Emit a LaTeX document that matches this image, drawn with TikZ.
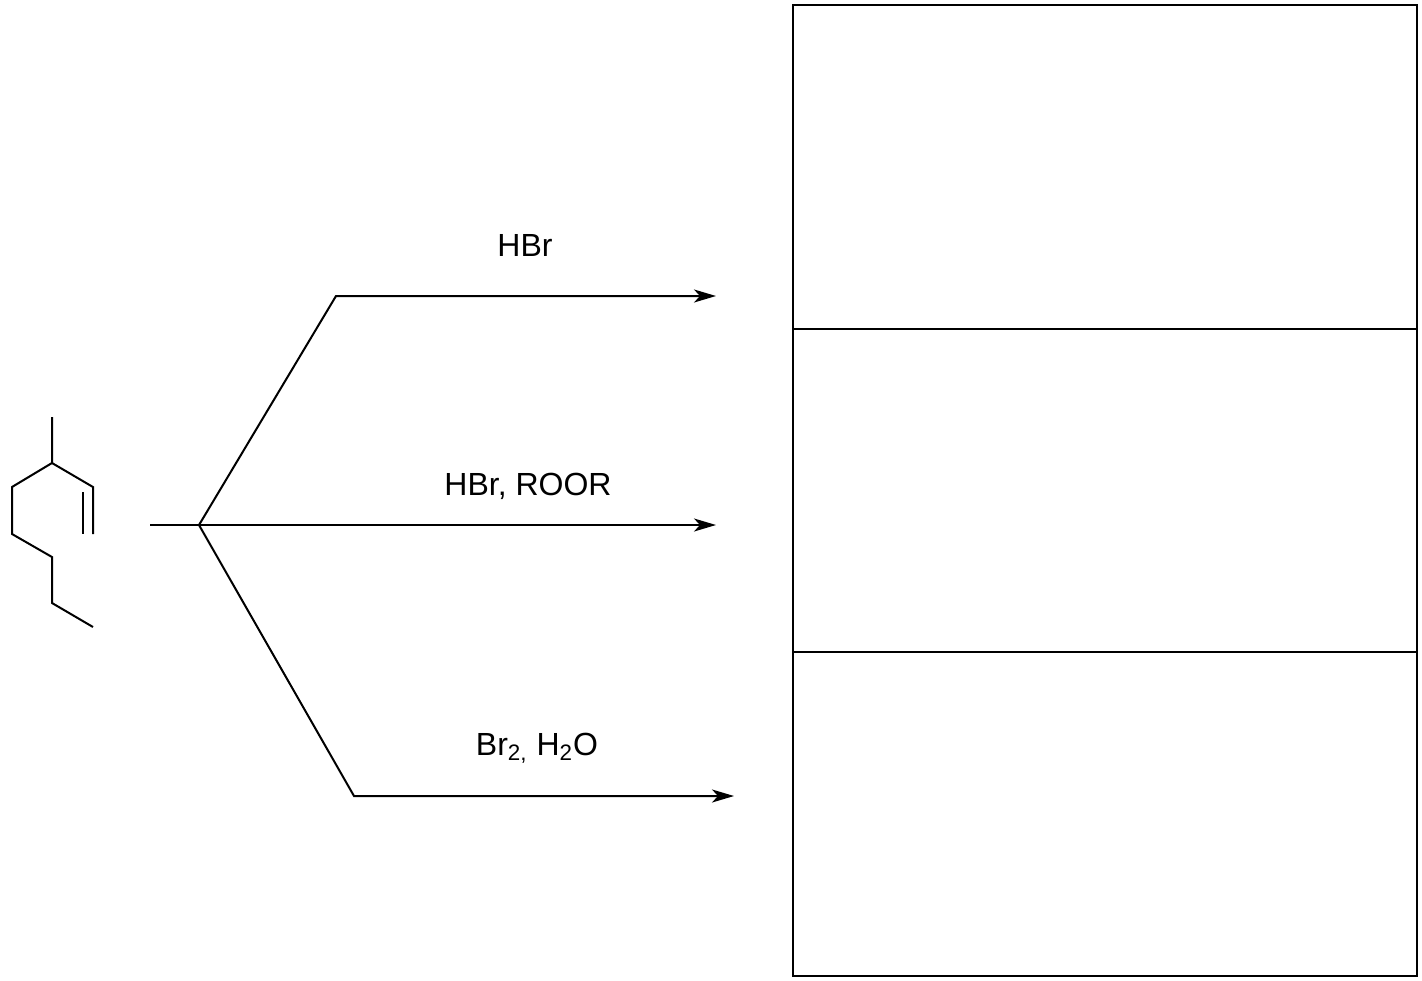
\documentclass[tikz,border=0pt]{standalone}
\usepackage{fontspec}
\setmainfont{Liberation Sans}
\usetikzlibrary{arrows.meta,positioning}

\begin{document}
\begin{tikzpicture}[x=0.5pt,y=-0.5pt,line width=1pt,
	reagent/.style={font=\fontsize{16}{19}\selectfont,anchor=base,inner sep=0pt},
	product box/.style={draw,rectangle,inner sep=0pt,outer sep=0pt,minimum width=312pt,minimum height=161.75pt},
	rxn/.style={-{Stealth[length=11pt,width=6.5pt,inset=3pt]}}]

			\useasboundingbox (0,0) rectangle (1422,980);

			% molecule
			\coordinate (me) at (52,417);
			\coordinate (c3) at (52,463);
			\coordinate (c2) at (93,487);
			\coordinate (c1) at (93,534);
			\coordinate (c4) at (12,487);
			\coordinate (c5) at (12,534);
			\coordinate (c6) at (52,557);
			\coordinate (c7) at (52,603);
			\coordinate (c8) at (93,627);
			\coordinate (d1) at (83,492);
			\coordinate (d2) at (83,534);

			\draw (me) -- (c3) -- (c2) -- (c1);
			\draw (d1) -- (d2);
			\draw (c3) -- (c4) -- (c5) -- (c6) -- (c7) -- (c8);

			% branches
			\coordinate (start) at (150,525);
			\coordinate (fork) at (199,525);
			\coordinate (k1) at (336,296);
			\coordinate (k3) at (354,796);
			\coordinate (e1) at (716,296);
			\coordinate (e2) at (716,525);
			\coordinate (e3) at (734,796);

			\draw (start) -- (fork);
			\draw[rxn] (fork) -- (k1) -- (e1);
			\draw[rxn] (fork) -- (e2);
			\draw[rxn] (fork) -- (k3) -- (e3);

			\node[reagent] (r1) at (525,256) {HBr};
			\node[reagent] (r2) at (528,495) {HBr, ROOR};
			\node[reagent] (r3) at (537,755) {Br\textsubscript{2,} H\textsubscript{2}O};

			% answer boxes
			\node[product box,anchor=north west] (box1) at (793,5) {};
			\node[product box] (box2) [below=0pt of box1] {};
			\node[product box] (box3) [below=0pt of box2] {};
		\end{tikzpicture}
\end{document}
